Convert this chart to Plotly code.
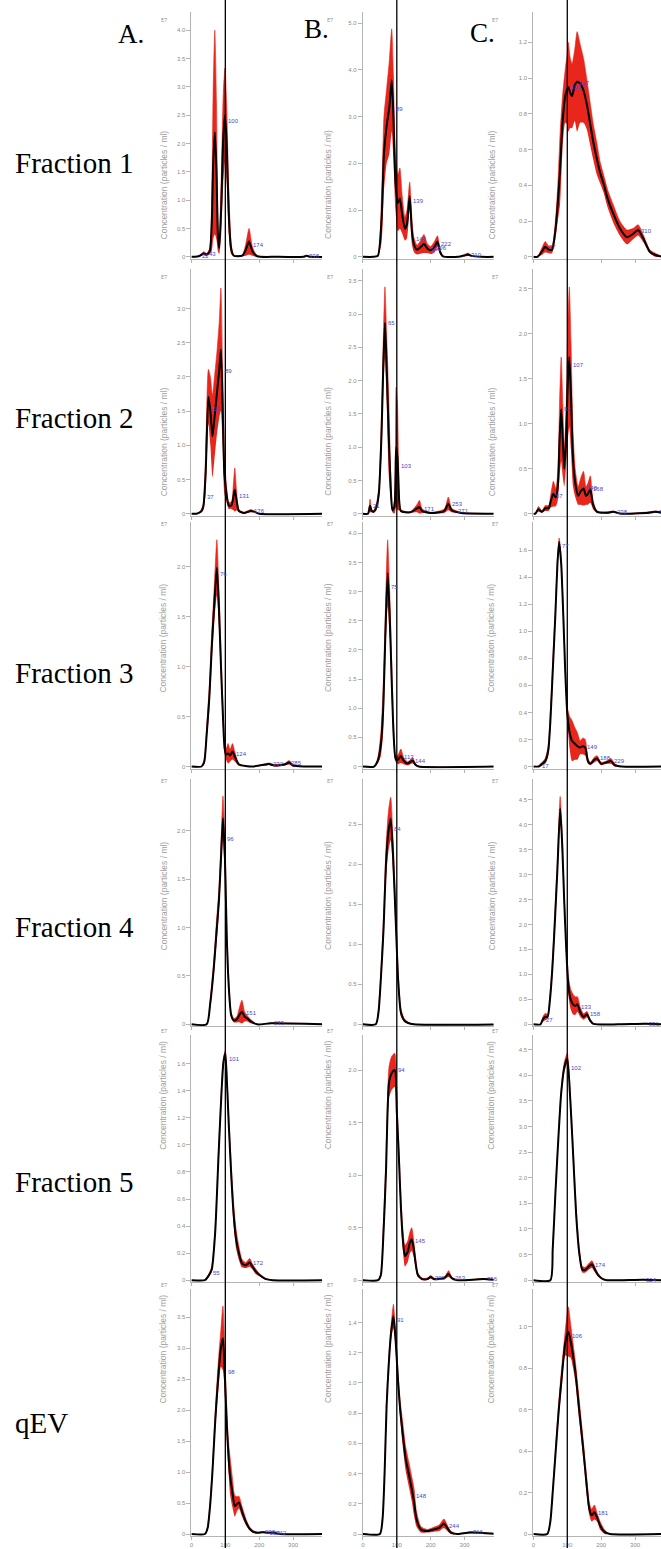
import numpy as np
import plotly.graph_objects as go

# ---------------- text ----------------
ROW_NAMES = ["Fraction 1", "Fraction 2", "Fraction 3", "Fraction 4", "Fraction 5", "qEV"]
COL_NAMES = ["A.", "B.", "C."]
Y_TITLE = "Concentration (particles / ml)"
EXP_LABEL = "E7"
REF_SIZE = 100
X_TICKS = [0, 100, 200, 300]

# ---------------- data: size (nm), mean conc. (E7/ml), error half-width ----------------
# Row 1
F1A_SIZE = [0, 10, 25, 36, 45, 54, 60, 64, 69, 74, 78, 82, 88, 94, 99, 104, 110, 117, 125, 150, 160, 170, 180, 194, 250, 330, 340, 350, 400]
F1A_MEAN = [0, 0, 0.02, 0.06, 0.04, 0.1, 0.6, 1.6, 2.2, 1.5, 0.4, 0.15, 0.9, 2.1, 2.5, 2.0, 0.8, 0.15, 0.02, 0.02, 0.12, 0.27, 0.1, 0.01, 0, 0, 0.02, 0, 0]
F1A_ERR = [0, 0, 0.01, 0.03, 0.02, 0.05, 0.5, 1.3, 1.8, 1.2, 0.3, 0.1, 0.5, 0.8, 0.83, 0.7, 0.4, 0.1, 0.01, 0.01, 0.1, 0.23, 0.08, 0.01, 0, 0, 0.01, 0, 0]
F1A_PEAKS = [22, 43, 100, 174, 338]
F1A_YTICKS = [0, 0.5, 1.0, 1.5, 2.0, 2.5, 3.0, 3.5, 4.0]

F1B_SIZE = [0, 30, 44, 55, 62, 70, 78, 85, 90, 96, 103, 109, 116, 124, 130, 138, 145, 151, 160, 172, 180, 190, 200, 212, 220, 228, 236, 280, 300, 310, 320, 350, 400]
F1B_MEAN = [0, 0, 0.02, 0.8, 2.2, 2.8, 3.2, 3.78, 3.0, 1.6, 1.15, 1.25, 0.9, 0.6, 0.7, 1.3, 0.5, 0.25, 0.15, 0.22, 0.28, 0.18, 0.14, 0.22, 0.33, 0.1, 0.01, 0, 0.03, 0.05, 0.02, 0, 0]
F1B_ERR = [0, 0, 0.02, 0.5, 0.8, 0.8, 1.0, 1.1, 0.9, 0.6, 0.6, 0.65, 0.4, 0.25, 0.3, 0.3, 0.25, 0.15, 0.1, 0.15, 0.2, 0.1, 0.08, 0.12, 0.12, 0.05, 0.01, 0, 0.02, 0.03, 0.01, 0, 0]
F1B_PEAKS = [89, 139, 148, 193, 206, 222, 310]
F1B_YTICKS = [0, 1.0, 2.0, 3.0, 4.0, 5.0]

F1C_SIZE = [0, 12, 25, 35, 45, 55, 65, 72, 79, 86, 94, 100, 103, 108, 114, 122, 129, 138, 148, 158, 167, 177, 187, 197, 207, 220, 236, 255, 276, 295, 309, 325, 343, 360, 380]
F1C_MEAN = [0, 0, 0.03, 0.056, 0.04, 0.04, 0.15, 0.3, 0.5, 0.75, 0.9, 0.94, 0.95, 0.92, 0.9, 0.96, 0.98, 0.97, 0.93, 0.85, 0.75, 0.64, 0.55, 0.47, 0.41, 0.32, 0.24, 0.16, 0.11, 0.13, 0.15, 0.1, 0.03, 0.01, 0]
F1C_ERR = [0, 0, 0.02, 0.03, 0.02, 0.02, 0.05, 0.1, 0.2, 0.15, 0.15, 0.2, 0.25, 0.2, 0.18, 0.2, 0.28, 0.22, 0.18, 0.14, 0.12, 0.1, 0.09, 0.06, 0.05, 0.05, 0.05, 0.04, 0.04, 0.03, 0.03, 0.02, 0.01, 0.01, 0]
F1C_PEAKS = [37, 103, 127, 310]
F1C_YTICKS = [0, 0.2, 0.4, 0.6, 0.8, 1.0, 1.2]

# Row 2
F2A_SIZE = [0, 15, 28, 35, 42, 50, 56, 62, 68, 75, 82, 87, 92, 97, 102, 110, 118, 124, 128, 133, 140, 155, 175, 185, 200, 400]
F2A_MEAN = [0, 0, 0.03, 0.1, 0.6, 1.71, 1.5, 1.13, 1.4, 1.75, 2.1, 2.4, 1.6, 0.6, 0.35, 0.12, 0.12, 0.25, 0.35, 0.2, 0.04, 0.01, 0.04, 0.03, 0, 0]
F2A_ERR = [0, 0, 0.02, 0.05, 0.3, 0.4, 0.5, 0.6, 0.6, 0.6, 0.7, 0.9, 0.6, 0.3, 0.15, 0.05, 0.05, 0.2, 0.32, 0.15, 0.02, 0.01, 0.02, 0.01, 0, 0]
F2A_PEAKS = [37, 55, 89, 131, 176]
F2A_YTICKS = [0, 0.5, 1.0, 1.5, 2.0, 2.5, 3.0]

F2B_SIZE = [0, 15, 21, 26, 32, 40, 47, 55, 60, 65, 70, 76, 82, 87, 93, 98, 102, 107, 112, 140, 160, 167, 175, 200, 240, 252, 262, 290, 400]
F2B_MEAN = [0, 0, 0.12, 0.04, 0.03, 0.1, 0.3, 1.2, 2.2, 2.87, 2.2, 1.2, 0.4, 0.05, 0.1, 1.0, 0.85, 0.2, 0.04, 0.02, 0.08, 0.1, 0.04, 0.01, 0.04, 0.15, 0.05, 0.01, 0]
F2B_ERR = [0, 0, 0.1, 0.02, 0.02, 0.05, 0.1, 0.3, 0.4, 0.54, 0.5, 0.6, 0.2, 0.03, 0.1, 0.9, 0.8, 0.15, 0.02, 0.01, 0.06, 0.1, 0.03, 0.01, 0.03, 0.1, 0.03, 0.01, 0]
F2B_PEAKS = [21, 65, 103, 171, 253, 271]
F2B_YTICKS = [0, 0.5, 1.0, 1.5, 2.0, 2.5, 3.0, 3.5]

F2C_SIZE = [0, 6, 15, 25, 35, 45, 52, 59, 66, 72, 77, 82, 87, 91, 96, 101, 106, 111, 117, 124, 132, 140, 148, 155, 161, 168, 176, 188, 220, 235, 260, 340, 360, 380]
F2C_MEAN = [0, 0, 0.05, 0.02, 0.06, 0.06, 0.15, 0.22, 0.18, 0.3, 0.8, 1.16, 0.8, 0.5, 0.8, 1.4, 1.74, 1.3, 0.6, 0.33, 0.2, 0.25, 0.28, 0.2, 0.22, 0.27, 0.1, 0.02, 0.01, 0.02, 0, 0.01, 0.02, 0.01]
F2C_ERR = [0, 0, 0.03, 0.01, 0.03, 0.03, 0.08, 0.14, 0.1, 0.15, 0.4, 0.58, 0.4, 0.2, 0.3, 0.6, 0.78, 0.6, 0.3, 0.15, 0.1, 0.15, 0.19, 0.1, 0.12, 0.15, 0.05, 0.01, 0.01, 0.01, 0, 0.01, 0.01, 0.01]
F2C_PEAKS = [57, 82, 107, 148, 168, 238, 362]
F2C_YTICKS = [0, 0.5, 1.0, 1.5, 2.0, 2.5]

# Row 3
F3A_SIZE = [0, 30, 38, 45, 53, 60, 67, 75, 81, 87, 93, 98, 103, 108, 114, 121, 128, 140, 180, 220, 229, 245, 275, 288, 300, 330, 400]
F3A_MEAN = [0, 0, 0.05, 0.32, 0.7, 1.19, 1.6, 1.99, 1.6, 1.02, 0.5, 0.18, 0.12, 0.13, 0.11, 0.15, 0.1, 0.02, 0, 0.02, 0.025, 0.01, 0.02, 0.04, 0.01, 0, 0]
F3A_ERR = [0, 0, 0.03, 0.08, 0.12, 0.15, 0.18, 0.28, 0.2, 0.15, 0.1, 0.06, 0.06, 0.1, 0.06, 0.08, 0.05, 0.01, 0, 0.01, 0.01, 0.01, 0.01, 0.02, 0.01, 0, 0]
F3A_PEAKS = [76, 124, 232, 285]
F3A_YTICKS = [0, 0.5, 1.0, 1.5, 2.0]

F3B_SIZE = [0, 33, 44, 53, 60, 66, 73, 79, 85, 91, 97, 104, 112, 120, 132, 140, 147, 155, 165, 400]
F3B_MEAN = [0, 0, 0.1, 0.38, 1.0, 2.2, 3.32, 2.6, 1.46, 0.5, 0.12, 0.12, 0.18, 0.1, 0.05, 0.08, 0.1, 0.03, 0, 0]
F3B_ERR = [0, 0, 0.05, 0.2, 0.4, 0.4, 0.57, 0.4, 0.3, 0.15, 0.05, 0.08, 0.12, 0.06, 0.03, 0.04, 0.05, 0.02, 0, 0]
F3B_PEAKS = [75, 113, 144]
F3B_YTICKS = [0, 0.5, 1.0, 1.5, 2.0, 2.5, 3.0, 3.5, 4.0]

F3C_SIZE = [0, 15, 21, 35, 44, 50, 58, 65, 71, 76, 82, 88, 94, 100, 107, 114, 122, 130, 138, 146, 153, 161, 168, 180, 188, 200, 215, 229, 240, 260, 380]
F3C_MEAN = [0, 0, 0.01, 0.04, 0.12, 0.33, 0.75, 1.13, 1.5, 1.66, 1.5, 1.13, 0.7, 0.39, 0.25, 0.19, 0.17, 0.15, 0.14, 0.15, 0.14, 0.04, 0.02, 0.05, 0.06, 0.02, 0.03, 0.04, 0.01, 0, 0]
F3C_ERR = [0, 0, 0.01, 0.02, 0.04, 0.07, 0.08, 0.05, 0.04, 0.03, 0.04, 0.05, 0.05, 0.05, 0.12, 0.15, 0.12, 0.1, 0.05, 0.06, 0.06, 0.02, 0.01, 0.02, 0.02, 0.01, 0.01, 0.02, 0.01, 0, 0]
F3C_PEAKS = [17, 77, 149, 188, 229]
F3C_YTICKS = [0, 0.2, 0.4, 0.6, 0.8, 1.0, 1.2, 1.4, 1.6]

# Row 4
F4A_SIZE = [0, 45, 55, 66, 74, 81, 87, 93, 99, 104, 110, 117, 125, 134, 142, 149, 157, 165, 175, 194, 235, 400]
F4A_MEAN = [0, 0, 0.2, 0.58, 0.95, 1.27, 1.7, 2.13, 1.7, 0.93, 0.4, 0.1, 0.04, 0.05, 0.1, 0.13, 0.08, 0.06, 0.03, 0, 0.01, 0]
F4A_ERR = [0, 0, 0.05, 0.08, 0.12, 0.12, 0.15, 0.23, 0.18, 0.12, 0.08, 0.03, 0.02, 0.03, 0.08, 0.12, 0.05, 0.03, 0.02, 0, 0.005, 0]
F4A_PEAKS = [96, 151, 235]
F4A_YTICKS = [0, 0.5, 1.0, 1.5, 2.0]

F4B_SIZE = [0, 38, 46, 53, 61, 68, 75, 82, 89, 97, 104, 112, 122, 132, 150, 400]
F4B_MEAN = [0, 0, 0.15, 0.57, 1.2, 2.0, 2.4, 2.57, 2.1, 1.28, 0.55, 0.15, 0.05, 0.02, 0, 0]
F4B_ERR = [0, 0, 0.05, 0.1, 0.15, 0.2, 0.25, 0.27, 0.2, 0.15, 0.1, 0.05, 0.02, 0.01, 0, 0]
F4B_PEAKS = [84]
F4B_YTICKS = [0, 0.5, 1.0, 1.5, 2.0, 2.5]

F4C_SIZE = [0, 21, 28, 35, 42, 49, 56, 63, 71, 79, 85, 91, 97, 103, 110, 118, 124, 130, 138, 148, 158, 167, 177, 250, 330, 380]
F4C_MEAN = [0, 0, 0.1, 0.15, 0.15, 0.5, 1.12, 2.0, 3.12, 4.32, 3.6, 2.45, 1.5, 0.79, 0.5, 0.39, 0.37, 0.4, 0.25, 0.15, 0.2, 0.08, 0.01, 0, 0.01, 0]
F4C_ERR = [0, 0, 0.05, 0.07, 0.05, 0.1, 0.15, 0.2, 0.2, 0.24, 0.2, 0.15, 0.15, 0.2, 0.2, 0.2, 0.18, 0.15, 0.1, 0.06, 0.06, 0.03, 0.01, 0, 0.01, 0]
F4C_PEAKS = [27, 133, 158, 331]
F4C_YTICKS = [0, 0.5, 1.0, 1.5, 2.0, 2.5, 3.0, 3.5, 4.0, 4.5]

# Row 5
F5A_SIZE = [0, 40, 50, 60, 70, 80, 88, 94, 100, 105, 110, 118, 125, 132, 140, 149, 160, 172, 180, 188, 200, 218, 240, 400]
F5A_MEAN = [0, 0, 0.03, 0.08, 0.35, 0.92, 1.35, 1.6, 1.68, 1.45, 1.16, 0.75, 0.47, 0.3, 0.2, 0.125, 0.11, 0.13, 0.1, 0.07, 0.04, 0.01, 0, 0]
F5A_ERR = [0, 0, 0.01, 0.02, 0.04, 0.05, 0.04, 0.03, 0.02, 0.04, 0.06, 0.08, 0.08, 0.07, 0.05, 0.03, 0.02, 0.03, 0.02, 0.02, 0.01, 0.005, 0, 0]
F5A_PEAKS = [55, 101, 172]
F5A_YTICKS = [0, 0.2, 0.4, 0.6, 0.8, 1.0, 1.2, 1.4, 1.6]

F5B_SIZE = [0, 45, 53, 60, 68, 77, 85, 94, 100, 106, 112, 118, 124, 132, 138, 144, 150, 156, 162, 175, 190, 200, 210, 240, 253, 262, 280, 356, 400]
F5B_MEAN = [0, 0, 0.05, 0.4, 1.02, 1.88, 1.97, 2.0, 1.6, 1.18, 0.7, 0.38, 0.23, 0.27, 0.35, 0.39, 0.3, 0.15, 0.05, 0.01, 0.01, 0.03, 0.01, 0.02, 0.06, 0.02, 0, 0.01, 0]
F5B_ERR = [0, 0, 0.02, 0.1, 0.15, 0.15, 0.16, 0.16, 0.12, 0.1, 0.1, 0.1, 0.1, 0.1, 0.1, 0.11, 0.08, 0.05, 0.02, 0.01, 0.01, 0.015, 0.01, 0.01, 0.03, 0.01, 0, 0.005, 0]
F5B_PEAKS = [94, 145, 205, 263, 356]
F5B_YTICKS = [0, 0.5, 1.0, 1.5, 2.0]

F5C_SIZE = [0, 50, 57, 65, 74, 82, 91, 100, 109, 118, 126, 135, 144, 153, 164, 173, 182, 191, 205, 218, 324, 380]
F5C_MEAN = [0, 0, 0.6, 1.7, 2.8, 3.65, 4.15, 4.33, 3.5, 2.35, 1.3, 0.55, 0.21, 0.2, 0.27, 0.31, 0.2, 0.1, 0.02, 0, 0.01, 0]
F5C_ERR = [0, 0, 0.05, 0.08, 0.08, 0.08, 0.1, 0.1, 0.12, 0.12, 0.12, 0.1, 0.06, 0.05, 0.06, 0.07, 0.05, 0.03, 0.01, 0, 0.005, 0]
F5C_PEAKS = [102, 174, 324]
F5C_YTICKS = [0, 0.5, 1.0, 1.5, 2.0, 2.5, 3.0, 3.5, 4.0, 4.5]

# Row 6 (qEV)
F6A_SIZE = [0, 40, 48, 55, 62, 70, 76, 81, 87, 93, 99, 105, 110, 114, 120, 128, 134, 140, 150, 161, 171, 181, 195, 211, 225, 243, 260, 400]
F6A_MEAN = [0, 0, 0.1, 0.45, 1.0, 1.8, 2.3, 2.66, 3.0, 3.16, 2.5, 1.69, 1.2, 0.94, 0.7, 0.45, 0.48, 0.51, 0.35, 0.19, 0.09, 0.04, 0.02, 0.03, 0.02, 0.02, 0, 0]
F6A_ERR = [0, 0, 0.03, 0.08, 0.1, 0.15, 0.2, 0.25, 0.3, 0.52, 0.3, 0.2, 0.25, 0.3, 0.25, 0.17, 0.12, 0.1, 0.08, 0.05, 0.03, 0.02, 0.01, 0.01, 0.01, 0.01, 0, 0]
F6A_PEAKS = [98, 208, 223, 242]
F6A_YTICKS = [0, 0.5, 1.0, 1.5, 2.0, 2.5, 3.0, 3.5]

F6B_SIZE = [0, 50, 58, 64, 70, 77, 84, 90, 96, 104, 110, 117, 126, 136, 144, 151, 158, 171, 190, 209, 225, 239, 249, 259, 280, 316, 400]
F6B_MEAN = [0, 0, 0.1, 0.4, 0.85, 1.15, 1.35, 1.44, 1.3, 1.0, 0.82, 0.67, 0.5, 0.39, 0.3, 0.21, 0.1, 0.03, 0.02, 0.03, 0.04, 0.07, 0.04, 0.01, 0, 0.01, 0]
F6B_ERR = [0, 0, 0.02, 0.04, 0.05, 0.05, 0.05, 0.08, 0.06, 0.05, 0.06, 0.08, 0.08, 0.08, 0.08, 0.09, 0.05, 0.02, 0.01, 0.015, 0.02, 0.03, 0.02, 0.01, 0, 0.005, 0]
F6B_PEAKS = [91, 148, 244, 316]
F6B_YTICKS = [0, 0.2, 0.4, 0.6, 0.8, 1.0, 1.2, 1.4]

F6C_SIZE = [0, 41, 50, 57, 65, 75, 85, 94, 103, 110, 117, 124, 135, 147, 158, 165, 172, 180, 188, 197, 210, 226, 380]
F6C_MEAN = [0, 0, 0.06, 0.2, 0.38, 0.6, 0.78, 0.92, 0.975, 0.93, 0.86, 0.78, 0.6, 0.41, 0.22, 0.12, 0.09, 0.105, 0.08, 0.04, 0.01, 0, 0]
F6C_ERR = [0, 0, 0.01, 0.02, 0.03, 0.04, 0.05, 0.06, 0.12, 0.08, 0.06, 0.05, 0.05, 0.04, 0.04, 0.03, 0.03, 0.035, 0.02, 0.02, 0.01, 0, 0]
F6C_PEAKS = [106, 181]
F6C_YTICKS = [0, 0.2, 0.4, 0.6, 0.8, 1.0]

PANELS = [
    [(F1A_SIZE, F1A_MEAN, F1A_ERR, F1A_PEAKS, F1A_YTICKS), (F1B_SIZE, F1B_MEAN, F1B_ERR, F1B_PEAKS, F1B_YTICKS), (F1C_SIZE, F1C_MEAN, F1C_ERR, F1C_PEAKS, F1C_YTICKS)],
    [(F2A_SIZE, F2A_MEAN, F2A_ERR, F2A_PEAKS, F2A_YTICKS), (F2B_SIZE, F2B_MEAN, F2B_ERR, F2B_PEAKS, F2B_YTICKS), (F2C_SIZE, F2C_MEAN, F2C_ERR, F2C_PEAKS, F2C_YTICKS)],
    [(F3A_SIZE, F3A_MEAN, F3A_ERR, F3A_PEAKS, F3A_YTICKS), (F3B_SIZE, F3B_MEAN, F3B_ERR, F3B_PEAKS, F3B_YTICKS), (F3C_SIZE, F3C_MEAN, F3C_ERR, F3C_PEAKS, F3C_YTICKS)],
    [(F4A_SIZE, F4A_MEAN, F4A_ERR, F4A_PEAKS, F4A_YTICKS), (F4B_SIZE, F4B_MEAN, F4B_ERR, F4B_PEAKS, F4B_YTICKS), (F4C_SIZE, F4C_MEAN, F4C_ERR, F4C_PEAKS, F4C_YTICKS)],
    [(F5A_SIZE, F5A_MEAN, F5A_ERR, F5A_PEAKS, F5A_YTICKS), (F5B_SIZE, F5B_MEAN, F5B_ERR, F5B_PEAKS, F5B_YTICKS), (F5C_SIZE, F5C_MEAN, F5C_ERR, F5C_PEAKS, F5C_YTICKS)],
    [(F6A_SIZE, F6A_MEAN, F6A_ERR, F6A_PEAKS, F6A_YTICKS), (F6B_SIZE, F6B_MEAN, F6B_ERR, F6B_PEAKS, F6B_YTICKS), (F6C_SIZE, F6C_MEAN, F6C_ERR, F6C_PEAKS, F6C_YTICKS)],
]

# ---------------- layout (pixels) ----------------
W, H = 661, 1549
COL_AXIS_X = [190, 362, 533]
COL_RIGHT = [321, 493, 661]
PX_PER_NM = 0.34
ROW_BASE = [257, 514, 767, 1025, 1281, 1535]
PLOT_H = 245
Y_MAX = [[4.32, 5.24, 1.37], [3.58, 3.68, 2.72], [2.45, 4.2, 1.81],
         [2.53, 3.06, 4.9], [1.81, 2.33, 4.78], [3.95, 1.62, 1.18]]
ROW_LABEL_Y = [163, 418, 673, 928, 1183, 1424]
COL_LABEL_POS = [(129, 34), (315, 29), (482, 33)]

RED = "#e8261c"
BLUE = "#4848c8"
GREY = "#8c8c8c"
LINE_GREY = "#b4b4b4"

fig = go.Figure()
layout = dict(
    width=W, height=H, margin=dict(l=0, r=0, t=0, b=0),
    paper_bgcolor="white", plot_bgcolor="rgba(0,0,0,0)",
    showlegend=False, annotations=[], shapes=[],
)

def fx(px):
    return px / W

def fy(py):
    return 1 - py / H

for r in range(6):
    for c in range(3):
        idx = r * 3 + c + 1
        sfx = "" if idx == 1 else str(idx)
        size, mean, err, peaks, yticks = PANELS[r][c]
        size = np.array(size, float)
        mean = np.array(mean, float)
        err = np.array(err, float)
        upper = mean + err
        lower = np.clip(mean - err, 0, None)
        xa, ya = "x" + sfx, "y" + sfx
        ymax = Y_MAX[r][c]
        ppu = PLOT_H / ymax
        pad = 2.0
        width_px = COL_RIGHT[c] - COL_AXIS_X[c]
        xmax = width_px / PX_PER_NM

        line_kw = dict(shape="spline", smoothing=0.6)
        fig.add_trace(go.Scatter(x=size, y=lower, mode="lines", xaxis=xa, yaxis=ya,
                                 line=dict(width=0, color=RED, **line_kw), hoverinfo="skip"))
        fig.add_trace(go.Scatter(x=size, y=upper, mode="lines", xaxis=xa, yaxis=ya, fill="tonexty",
                                 fillcolor=RED, line=dict(width=0.6, color=RED, **line_kw), hoverinfo="skip"))
        fig.add_trace(go.Scatter(x=size, y=mean, mode="lines", xaxis=xa, yaxis=ya,
                                 line=dict(width=2, color="black", **line_kw)))

        base = ROW_BASE[r]
        layout["xaxis" + sfx] = dict(
            domain=[fx(COL_AXIS_X[c]), fx(COL_RIGHT[c])], range=[0, xmax], anchor=ya,
            showgrid=False, zeroline=False, showline=True, linecolor=LINE_GREY, linewidth=1,
            ticks="outside", ticklen=3, tickcolor=LINE_GREY, tickvals=X_TICKS,
            showticklabels=(r == 5), tickfont=dict(size=6, color=GREY, family="Liberation Sans"),
        )
        layout["yaxis" + sfx] = dict(
            domain=[fy(base + pad), fy(base - PLOT_H)], range=[-pad / ppu, ymax], anchor=xa,
            showgrid=False, zeroline=False, showline=True, linecolor=LINE_GREY, linewidth=1,
            ticks="outside", ticklen=4, tickcolor=LINE_GREY,
            tickvals=yticks, ticktext=["0" if v == 0 else f"{v:.1f}" for v in yticks],
            tickfont=dict(size=6, color=GREY, family="Liberation Sans"),
        )
        # axis title, exponent label
        layout["annotations"].append(dict(
            text=Y_TITLE, textangle=-90, xref="paper", yref="paper",
            x=fx(COL_AXIS_X[c] - 35), y=fy(base - PLOT_H / 2 - 6), showarrow=False,
            font=dict(size=8.5, color="#a0a0a0", family="Liberation Sans"),
        ))
        layout["annotations"].append(dict(
            text=EXP_LABEL, xref="paper", yref="paper", x=fx(COL_AXIS_X[c] - 33),
            y=fy(base - PLOT_H + 2), showarrow=False, font=dict(size=5.5, color=GREY),
        ))
        # peak labels
        for p in peaks:
            py = float(np.interp(p, size, mean))
            layout["annotations"].append(dict(
                text=str(p), x=p, y=py, xref=xa, yref=ya, xanchor="left", yanchor="middle",
                xshift=1, showarrow=False, font=dict(size=6, color=BLUE, family="Liberation Sans"),
            ))

# vertical reference lines at 100 nm through each column
for c in range(3):
    sfx = "" if c == 0 else str(c + 1)
    layout["shapes"].append(dict(type="line", xref="x" + sfx, yref="paper",
                                 x0=REF_SIZE, x1=REF_SIZE, y0=0, y1=1,
                                 line=dict(color="black", width=1.3), layer="above"))

for r, name in enumerate(ROW_NAMES):
    layout["annotations"].append(dict(
        text=name, xref="paper", yref="paper", x=fx(11), y=fy(ROW_LABEL_Y[r]),
        xanchor="left", yanchor="middle", showarrow=False,
        font=dict(size=29, color="black", family="Liberation Serif"),
    ))
for c, name in enumerate(COL_NAMES):
    px, py = COL_LABEL_POS[c]
    layout["annotations"].append(dict(
        text=name, xref="paper", yref="paper", x=fx(px), y=fy(py),
        xanchor="center", yanchor="middle", showarrow=False,
        font=dict(size=27, color="black", family="Liberation Serif"),
    ))

fig.update_layout(**layout)
fig.write_html("out.html", config={"displayModeBar": False},
               post_script="document.body.style.margin='0';document.body.style.overflow='hidden';")
